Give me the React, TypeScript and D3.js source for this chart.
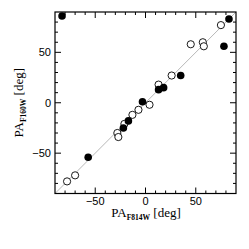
import React from "react";
import { scaleLinear, range } from "d3";

// position angles [deg]: F814W (x) vs F160W (y)
const filledX = [-83, 83, 78, 35, 13, 18, -3, -17, -22, -57];
const filledY = [86, 83, 56, 27, 13, 15, 1, -18, -25, -54];
const openX = [-78, -70, -28, -27, -21, -13, -7, 4, 13, 26, 45, 57, 58, 75];
const openY = [-78, -72, -30, -34, -21, -12, -7, -2, 18, 27, 58, 60, 56, 77];
const tickLabels = [-50, 0, 50];
const domain = [-90, 90];

const W = 249;
const H = 249;
const frame = { left: 55, right: 236, top: 12, bottom: 193.5 };

const App = () => {
  const x = scaleLinear().domain(domain).range([frame.left, frame.right]);
  const y = scaleLinear().domain(domain).range([frame.bottom, frame.top]);

  const minor = range(-80, 90, 10);
  const tickLen = (v: number) => (v % 50 === 0 ? 6 : 3);

  return (
    <svg
      width={W}
      height={H}
      style={{ position: "absolute", left: 0, top: 0, background: "#fff" }}
    >
      {/* y = x reference line */}
      <line
        x1={x(-90)}
        y1={y(-90)}
        x2={x(90)}
        y2={y(90)}
        stroke="#b8b8b8"
        strokeWidth={1}
      />

      {/* ticks, all four sides, pointing in */}
      {minor.map((v) => (
        <g key={"t" + v} stroke="#000" strokeWidth={1}>
          <line x1={x(v)} x2={x(v)} y1={frame.bottom} y2={frame.bottom - tickLen(v)} />
          <line x1={x(v)} x2={x(v)} y1={frame.top} y2={frame.top + tickLen(v)} />
          <line y1={y(v)} y2={y(v)} x1={frame.left} x2={frame.left + tickLen(v)} />
          <line y1={y(v)} y2={y(v)} x1={frame.right} x2={frame.right - tickLen(v)} />
        </g>
      ))}

      {/* points */}
      {openX.map((v, i) => (
        <circle
          key={"o" + i}
          cx={x(v)}
          cy={y(openY[i])}
          r={3.6}
          fill="#fff"
          stroke="#000"
          strokeWidth={0.9}
        />
      ))}
      {filledX.map((v, i) => (
        <circle key={"f" + i} cx={x(v)} cy={y(filledY[i])} r={3.8} fill="#000" />
      ))}

      <rect
        x={frame.left}
        y={frame.top}
        width={frame.right - frame.left}
        height={frame.bottom - frame.top}
        fill="none"
        stroke="#000"
        strokeWidth={1.2}
      />

      {/* tick labels */}
      <g fontFamily="Liberation Sans, Arial, sans-serif" fontSize={11} fill="#000">
        {tickLabels.map((v) => (
          <text key={"xl" + v} x={x(v)} y={205} textAnchor="middle">
            {v < 0 ? "\u2212" + Math.abs(v) : v}
          </text>
        ))}
        {tickLabels.map((v) => (
          <text key={"yl" + v} x={51} y={y(v) + 4} textAnchor="end">
            {v < 0 ? "\u2212" + Math.abs(v) : v}
          </text>
        ))}
      </g>

      {/* axis titles */}
      <g fontFamily="Liberation Serif, Times New Roman, serif" fill="#000">
        <text x={146} y={217} textAnchor="middle" fontSize={13}>
          PA
          <tspan fontSize={7.5} fontWeight="bold" dy={3}>F814W</tspan>
          <tspan dy={-3}> [deg]</tspan>
        </text>
        <text
          transform={`translate(23,${y(0)}) rotate(-90)`}
          textAnchor="middle"
          fontSize={13}
        >
          PA
          <tspan fontSize={7.5} fontWeight="bold" dy={3}>F160W</tspan>
          <tspan dy={-3}> [deg]</tspan>
        </text>
      </g>
    </svg>
  );
};

export default App;
